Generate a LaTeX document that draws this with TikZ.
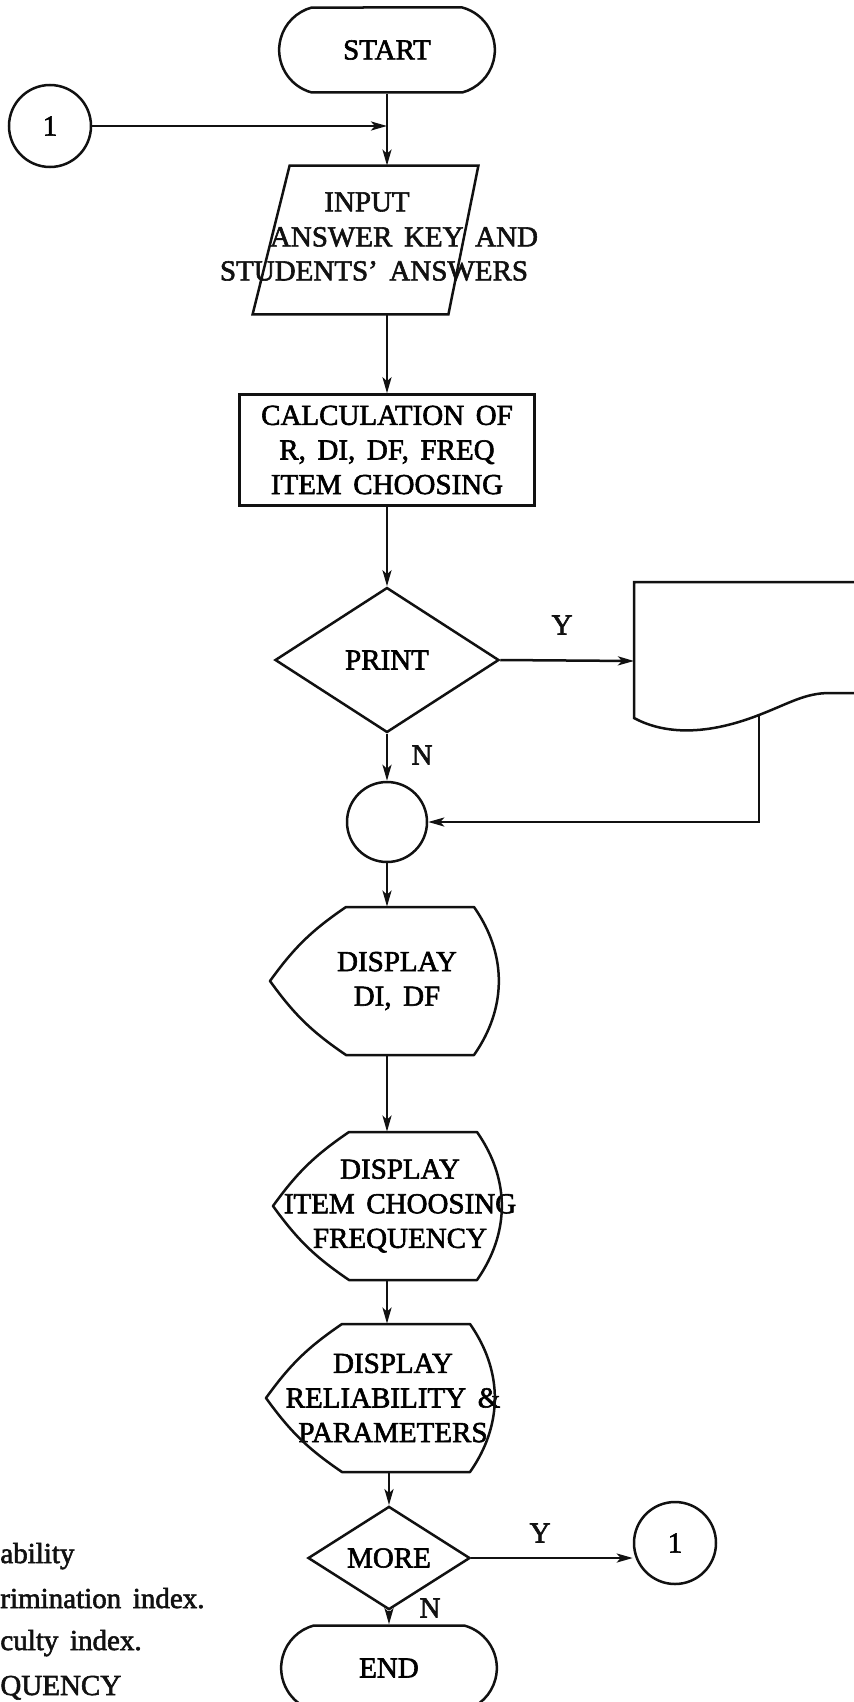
\documentclass[tikz,border=0pt]{standalone}
\usepackage{fontspec}
\setmainfont{Liberation Serif}[WordSpace=1.6,FakeBold=2]
\usepackage{tikz}
\usetikzlibrary{calc,arrows.meta,positioning,shapes.geometric,shapes.misc}
\definecolor{ink}{HTML}{111111}
\tikzset{
  ar/.style={-{Stealth[length=8pt,width=4.5pt,inset=2pt]},line width=1.25pt,ink},
  ln/.style={line width=1.25pt,ink},
  term/.style={rounded rectangle,rounded rectangle arc length=150,draw=ink,line width=1.25pt,minimum width=114.5pt,minimum height=42.5pt},
  iobox/.style={rectangle,inner sep=0pt,minimum width=112.5pt,minimum height=74pt},
  box/.style={rectangle,draw=ink,line width=1.25pt,align=center,minimum width=147.5pt,minimum height=55.5pt},
  dec/.style={diamond,draw=ink,line width=1.25pt,inner sep=0pt},
  con/.style={circle,draw=ink,line width=1.25pt,inner sep=0pt},
  disp/.style={align=center,inner sep=0pt,minimum height=74pt},
  lbl/.style={inner sep=0pt,ink}
}
% outline of a display box round a named node
\newcommand{\dispout}[1]{%
  \draw[ln,line join=round] ($(#1)+(-51,-74)$) -- ($(#1)+(77,-74)$)
    to[bend left=35] ($(#1)+(77,74)$) -- ($(#1)+(-51,74)$)
    to[bend left=10] ($(#1)+(-127,0)$) to[bend left=10] ($(#1)+(-51,-74)$) -- cycle;}

\begin{document}
\begin{tikzpicture}[x=0.5pt,y=-0.5pt,font=\fontsize{14.5}{17.3}\selectfont]
\useasboundingbox (0,0) rectangle (854,1702);
\clip (0,0) rectangle (854,1702);
% main column
\node[term] (start) at (387,50) {START};
\node[con,minimum size=41pt] (con1) at (50,126) {1};
\node[iobox] (input) at (365.5,240) {};
\draw[ln] ($(input.north west)+(37,0)$) -- (input.north east)
  -- ($(input.south east)+(-30,0)$) -- (input.south west) -- cycle;
\node[lbl] (inp1) at (367,202) {INPUT};
\node[lbl] (inp2) at (404,237) {ANSWER KEY AND};
\node[lbl] (inp3) at (374,271) {STUDENTS' ANSWERS};
\node[box] (calc) at (387,450) {CALCULATION OF\\R, DI, DF, FREQ\\ITEM CHOOSING};
\node[dec,minimum width=112pt,minimum height=72.5pt] (print) at (387,660) {PRINT};
\node[con,minimum size=40pt] (join) at (387,822) {};
\node[disp] (disp1) at (397,981) {DISPLAY\\DI, DF};
\node[disp] (disp2) at (400,1206) {DISPLAY\\ITEM CHOOSING\\FREQUENCY};
\node[disp] (disp3) at (393,1398) {DISPLAY\\RELIABILITY \&\\PARAMETERS};
\dispout{disp1}
\dispout{disp2}
\dispout{disp3}
\node[dec,minimum width=81pt,minimum height=51.5pt] (more) at (389,1558) {MORE};
\node[term] (end) at (389,1668) {END};
\node[con,minimum size=41pt] (con2) at (675,1543) {1};
% printed document, cut by the page edge
\coordinate (docin) at (634,661);
\coordinate (docout) at (759,715);
\draw[ln] (854,582) -- (634,582) -- (634,718) .. controls (660,732) and (700,738) .. (759,715)
  .. controls (790,703) and (805,693) .. (830,693) -- (854,693);
% connectors
\draw[ar] (con1.east) -- (con1.east -| start.south);
\draw[ar] (start.south) -- (start.south |- input.north);
\draw[ar] (start.south |- input.south) -- (calc.north);
\draw[ar] (calc.south) -- (print.north);
\draw[ar] (print.east) -- (docin);
\draw[ar] (print.south) -- (join.north);
\draw[ar] (docout) |- (join.east);
\draw[ar] (join.south) -- (join.south |- disp1.north);
\draw[ar] (join.south |- disp1.south) -- (join.south |- disp2.north);
\draw[ar] (join.south |- disp2.south) -- (join.south |- disp3.north);
\draw[ar] (more.north |- disp3.south) -- (more.north);
\draw[ar] (more.south) -- (end.north);
\draw[ar] (more.east) -- (more.east -| con2.west);
% branch labels
\node[lbl] (yes1) at (562,625) {Y};
\node[lbl] (no1) at (422,755) {N};
\node[lbl] (yes2) at (540,1533) {Y};
\node[lbl] (no2) at (430,1608) {N};
% legend, cut by the page edge
\node[lbl,anchor=base west] (leg1) at (0,1563) {ability};
\node[lbl,anchor=base west] (leg2) at (0,1608) {rimination index.};
\node[lbl,anchor=base west] (leg3) at (0,1650) {culty index.};
\node[lbl,anchor=base west] (leg4) at (0,1695) {QUENCY};
\end{tikzpicture}
\end{document}
